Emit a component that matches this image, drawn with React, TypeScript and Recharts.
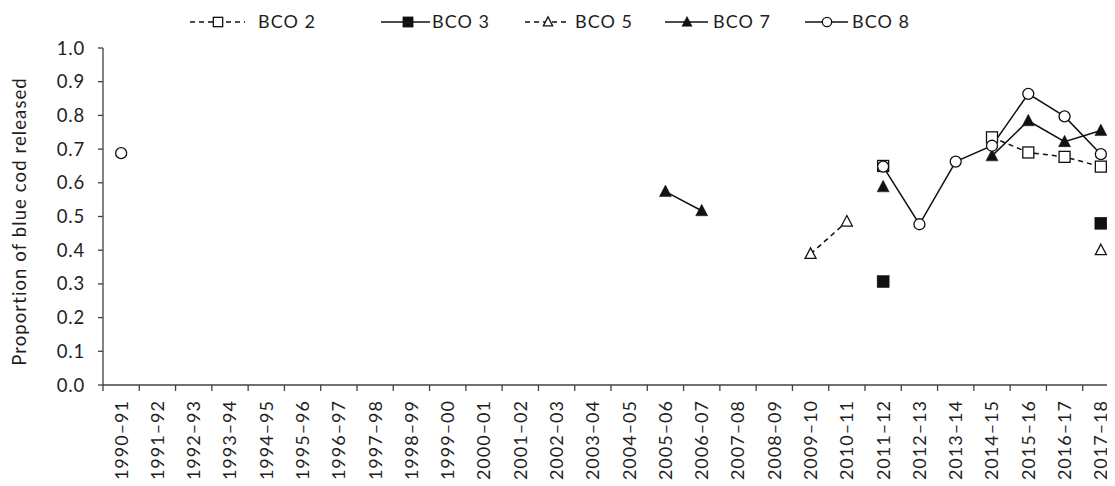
import React from 'react';
import { LineChart, Line, XAxis, YAxis, Legend, Label } from 'recharts';

const categories = [
  '1990–91', '1991–92', '1992–93', '1993–94', '1994–95', '1995–96', '1996–97',
  '1997–98', '1998–99', '1999–00', '2000–01', '2001–02', '2002–03', '2003–04',
  '2004–05', '2005–06', '2006–07', '2007–08', '2008–09', '2009–10', '2010–11',
  '2011–12', '2012–13', '2013–14', '2014–15', '2015–16', '2016–17', '2017–18',
];

const bco2: (number | null)[] = [
  null, null, null, null, null, null, null, null, null, null, null, null, null, null,
  null, null, null, null, null, null, null, 0.65, null, null, 0.735, 0.69, 0.677, 0.648,
];
const bco3: (number | null)[] = [
  null, null, null, null, null, null, null, null, null, null, null, null, null, null,
  null, null, null, null, null, null, null, 0.307, null, null, null, null, null, 0.48,
];
const bco5: (number | null)[] = [
  null, null, null, null, null, null, null, null, null, null, null, null, null, null,
  null, null, null, null, null, 0.389, 0.485, null, null, null, null, null, null, 0.40,
];
const bco7: (number | null)[] = [
  null, null, null, null, null, null, null, null, null, null, null, null, null, null,
  null, 0.574, 0.517, null, null, null, null, 0.588, null, null, 0.68, 0.784, 0.722, 0.755,
];
const bco8: (number | null)[] = [
  0.688, null, null, null, null, null, null, null, null, null, null, null, null, null,
  null, null, null, null, null, null, null, 0.648, 0.477, 0.663, 0.71, 0.864, 0.797, 0.685,
];

const yTicks = [0, 0.1, 0.2, 0.3, 0.4, 0.5, 0.6, 0.7, 0.8, 0.9, 1.0];
const seriesNames = ['BCO 2', 'BCO 3', 'BCO 5', 'BCO 7', 'BCO 8'];
const yTitle = 'Proportion of blue cod released';

const rows = categories.map((c, i) => ({
  x: i + 0.5,
  cat: c,
  bco2: bco2[i],
  bco3: bco3[i],
  bco5: bco5[i],
  bco7: bco7[i],
  bco8: bco8[i],
}));

const xTicks: number[] = [];
for (let i = 0; i <= categories.length; i++) {
  xTicks.push(i);
  if (i < categories.length) xTicks.push(i + 0.5);
}

const INK = '#111';
const AXIS = '#404040';
const TEXT = '#1e1e1e';
const FONT = 'Lato, "Open Sans", sans-serif';

type Shape = 'openSquare' | 'filledSquare' | 'openTriangle' | 'filledTriangle' | 'openCircle';

function marker(shape: Shape, cx: number, cy: number, scale = 1, key?: any) {
  const sw = 1.3;
  switch (shape) {
    case 'openSquare': {
      const h = 5.5 * scale;
      return <rect key={key} x={cx - h} y={cy - h} width={2 * h} height={2 * h} fill="#fff" stroke={INK} strokeWidth={sw} />;
    }
    case 'filledSquare': {
      const h = 6 * scale;
      return <rect key={key} x={cx - h} y={cy - h} width={2 * h} height={2 * h} fill={INK} stroke={INK} strokeWidth={0.5} />;
    }
    case 'openTriangle': {
      const w = 5.5 * scale, t = 6 * scale, b = 4.5 * scale;
      return <polygon key={key} points={`${cx},${cy - t} ${cx + w},${cy + b} ${cx - w},${cy + b}`} fill="#fff" stroke={INK} strokeWidth={sw} />;
    }
    case 'filledTriangle': {
      const w = 6 * scale, t = 6.5 * scale, b = 5 * scale;
      return <polygon key={key} points={`${cx},${cy - t} ${cx + w},${cy + b} ${cx - w},${cy + b}`} fill={INK} stroke={INK} strokeWidth={0.5} />;
    }
    default:
      return <circle key={key} cx={cx} cy={cy} r={5.5 * scale} fill="#fff" stroke={INK} strokeWidth={sw} />;
  }
}

const makeDot = (shape: Shape) => (props: any) => {
  const { cx, cy, index, value } = props;
  if (cx == null || cy == null || value == null || (Array.isArray(value) && value[1] == null)) {
    return <g key={`e-${shape}-${index}`} />;
  }
  return marker(shape, cx, cy, 1, `d-${shape}-${index}`);
};

const XTick = (props: any) => {
  const { x, y, payload } = props;
  const v = payload.value as number;
  if (Number.isInteger(v)) {
    return <line x1={x} x2={x} y1={y} y2={y + 6} stroke={AXIS} strokeWidth={1.3} />;
  }
  const label = categories[Math.floor(v)];
  const ty = y + 15;
  return (
    <text x={x} y={ty} transform={`rotate(-90 ${x} ${ty})`} textAnchor="end" dy="0.36em"
      fontSize={18} fill={TEXT} style={{ fontFamily: FONT, letterSpacing: 1 }}>
      {label}
    </text>
  );
};

const YTitle = (props: any) => {
  const vb = props.viewBox || { x: 0, y: 40, width: 95, height: 337 };
  const cx = vb.x + 11;
  const cy = vb.y + vb.height / 2 + 5;
  return (
    <text x={cx} y={cy} transform={`rotate(-90 ${cx} ${cy})`} textAnchor="middle" dy="0.36em"
      fontSize={18.5} fill={TEXT} style={{ fontFamily: FONT, letterSpacing: 1.1 }}>
      {yTitle}
    </text>
  );
};

const legendItems: { name: string; shape: Shape; dashed: boolean; x0: number; x1: number; m: number; t: number }[] = [
  { name: seriesNames[0], shape: 'openSquare', dashed: true, x0: 182, x1: 237, m: 210, t: 250 },
  { name: seriesNames[1], shape: 'filledSquare', dashed: false, x0: 373, x1: 422, m: 400, t: 424 },
  { name: seriesNames[2], shape: 'openTriangle', dashed: true, x0: 517, x1: 559, m: 540, t: 567 },
  { name: seriesNames[3], shape: 'filledTriangle', dashed: false, x0: 657, x1: 700, m: 679, t: 705 },
  { name: seriesNames[4], shape: 'openCircle', dashed: false, x0: 797, x1: 840, m: 819, t: 844 },
];

const LegendContent = () => (
  <svg width={1107} height={30} style={{ display: 'block' }}>
    {legendItems.map((it) => (
      <g key={it.name}>
        <line x1={it.x0} x2={it.x1} y1={14} y2={14} stroke={INK} strokeWidth={1.5}
          strokeDasharray={it.dashed ? '5 4' : undefined} />
        {marker(it.shape, it.m, 14, 0.85)}
        <text x={it.t} y={14} dy="0.36em" fontSize={18} fill={TEXT} style={{ fontFamily: FONT, letterSpacing: 1 }}>
          {it.name}
        </text>
      </g>
    ))}
  </svg>
);

export default function App() {
  return (
    <div style={{ width: 1107, height: 478, overflow: 'hidden', position: 'relative', fontFamily: FONT, background: '#fff' }}>
      <LineChart width={1120} height={478} data={rows} margin={{ top: 40, right: 9, bottom: 6, left: 0 }}>
        <XAxis
          type="number"
          dataKey="x"
          domain={[0, categories.length]}
          ticks={xTicks}
          interval={0}
          tickLine={false}
          tickSize={0}
          tickMargin={0}
          tick={XTick}
          height={95}
          axisLine={{ stroke: AXIS, strokeWidth: 1.3 }}
          allowDecimals
        />
        <YAxis
          type="number"
          domain={[0, 1]}
          ticks={yTicks}
          interval={0}
          tickFormatter={(v: number) => v.toFixed(1)}
          width={95}
          tickSize={5}
          tickMargin={13}
          axisLine={{ stroke: AXIS, strokeWidth: 1.3 }}
          tickLine={{ stroke: AXIS, strokeWidth: 1.3 }}
          tick={{ fontSize: 18.5, fill: TEXT, fontFamily: FONT, letterSpacing: 0.8 }}
        >
          <Label content={YTitle} position="insideLeft" />
        </YAxis>
        <Legend
          verticalAlign="middle"
          align="center"
          layout="horizontal"
          wrapperStyle={{ top: 0, left: 0, width: 1107, height: 30 }}
          content={() => <LegendContent />}
        />
        <Line dataKey="bco2" name={seriesNames[0]} stroke={INK} strokeWidth={1.5} strokeDasharray="5 4"
          dot={makeDot('openSquare')} activeDot={false} isAnimationActive={false} />
        <Line dataKey="bco3" name={seriesNames[1]} stroke={INK} strokeWidth={1.5}
          dot={makeDot('filledSquare')} activeDot={false} isAnimationActive={false} />
        <Line dataKey="bco5" name={seriesNames[2]} stroke={INK} strokeWidth={1.5} strokeDasharray="5 4"
          dot={makeDot('openTriangle')} activeDot={false} isAnimationActive={false} />
        <Line dataKey="bco7" name={seriesNames[3]} stroke={INK} strokeWidth={1.5}
          dot={makeDot('filledTriangle')} activeDot={false} isAnimationActive={false} />
        <Line dataKey="bco8" name={seriesNames[4]} stroke={INK} strokeWidth={1.5}
          dot={makeDot('openCircle')} activeDot={false} isAnimationActive={false} />
      </LineChart>
    </div>
  );
}
